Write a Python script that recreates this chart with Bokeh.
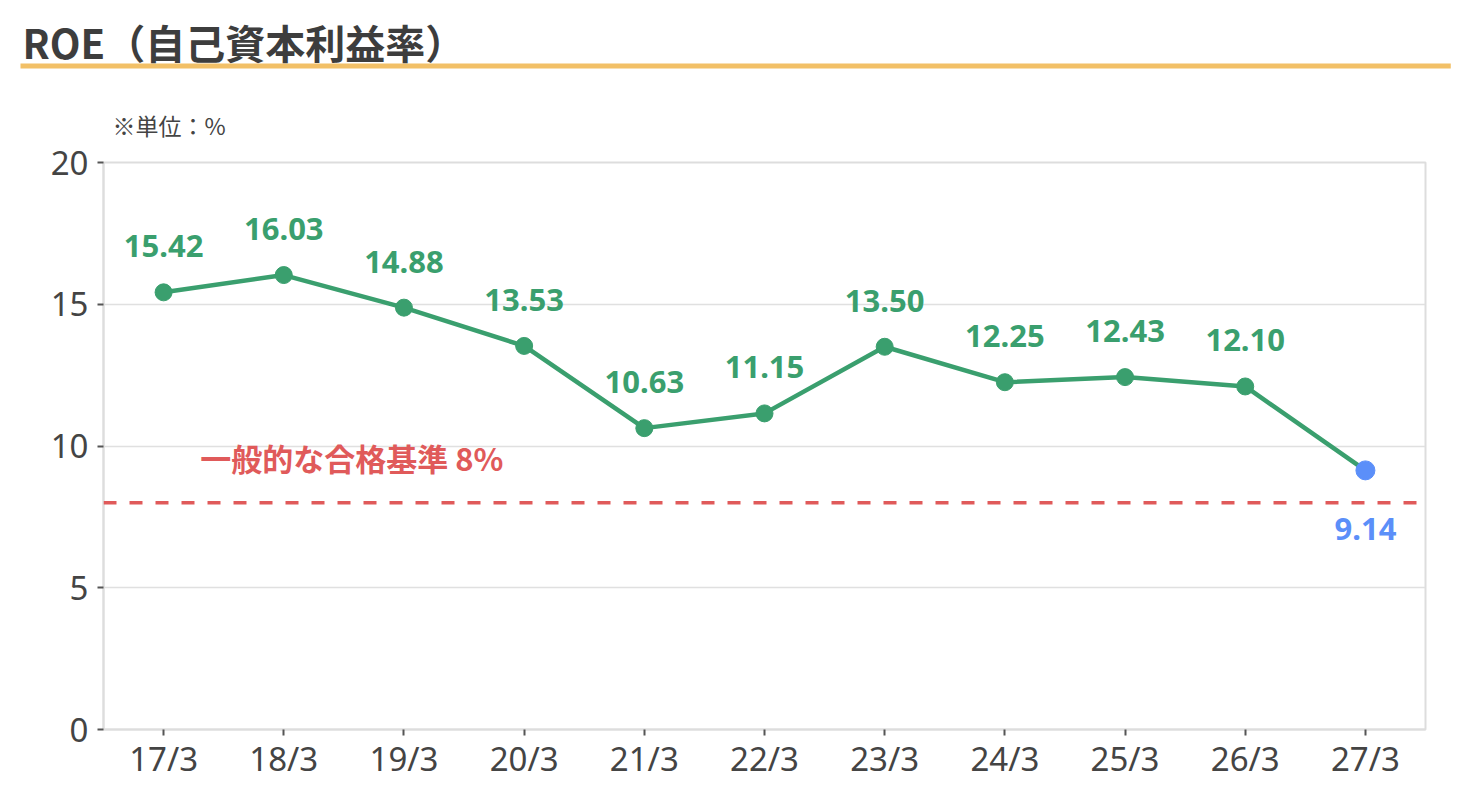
from bokeh.plotting import figure
from bokeh.models import Range1d, FactorRange, Span, FixedTicker, Title
from bokeh.embed import file_html
from bokeh.resources import INLINE
from bokeh.core.properties import value

# ---- data ----
categories = ["17/3", "18/3", "19/3", "20/3", "21/3", "22/3",
              "23/3", "24/3", "25/3", "26/3", "27/3"]
roe = [15.42, 16.03, 14.88, 13.53, 10.63, 11.15, 13.50, 12.25, 12.43, 12.10, 9.14]
y_ticks = [0, 5, 10, 15, 20]
benchmark = 8
benchmark_label = "一般的な合格基準 8%"
title_text = "ROE（自己資本利益率）"
unit_text = "※単位：%"

# ---- styles ----
GREEN = "#3a9f6e"
BLUE = "#5b8ff9"
RED = "#e05a5a"
ORANGE = "#f2c067"
DARK = "#444444"
GRID = "#e0e0e0"
LATIN = "Noto Sans"
CJK = "Noto Sans CJK JP"

p = figure(width=1462, height=802, output_backend="svg", toolbar_location=None,
           tools="", x_range=FactorRange(*categories), y_range=Range1d(0, 20),
           min_border_left=103, min_border_right=37, min_border_top=162,
           min_border_bottom=73)
p.outline_line_color = "#dddddd"
p.outline_line_width = 2
p.xgrid.grid_line_color = None
p.ygrid.grid_line_color = GRID
p.ygrid.grid_line_width = 1.5
p.yaxis.ticker = FixedTicker(ticks=y_ticks)

for ax in (p.xaxis, p.yaxis):
    ax.axis_line_color = "#dddddd"
    ax.axis_line_width = 2
    ax.major_tick_line_color = "#555555"
    ax.major_tick_line_width = 2
    ax.major_tick_out = 6
    ax.major_tick_in = 0
    ax.minor_tick_line_color = None
    ax.major_label_text_font = LATIN
    ax.major_label_text_font_size = "33px"
    ax.major_label_text_color = DARK
p.yaxis.major_label_standoff = 9
p.xaxis.major_label_standoff = 0

# ---- header (stacked upward from the plot frame) ----
# unit note
p.add_layout(Title(text=unit_text, align="left", offset=9, standoff=41,
                   text_font=CJK, text_font_size="23px",
                   text_font_style="normal", text_color=DARK), "above")
# invisible spacer
p.add_layout(Title(text=" ", align="left", offset=0, standoff=14,
                   text_font_size="1px"), "above")
# orange underline
p.add_layout(Title(text=" ", align="left", offset=-83, standoff=0,
                   text_font_size="1px", background_fill_color=ORANGE,
                   padding=(715, 715, 2, 2)), "above")
# main title
p.title.text = title_text
p.title.align = "left"
p.title.offset = -81
p.title.standoff = -18
p.title.text_font = CJK
p.title.text_font_size = "40px"
p.title.text_font_style = "bold"
p.title.text_color = "#3d3d3d"

# benchmark line
p.add_layout(Span(location=benchmark, dimension="width", line_color=RED,
                  line_width=3.5, line_dash="13 13"))
p.text(x=[categories[1]], y=[benchmark], text=[benchmark_label], x_offset=68,
       y_offset=-45, text_font=value(CJK), text_font_style="bold",
       text_font_size="31px", text_color=RED, text_align="center",
       text_baseline="middle")

# ROE line and points
p.line(x=categories, y=roe, line_color=GREEN, line_width=4.5)
p.scatter(x=categories[:-1], y=roe[:-1], size=17, fill_color=GREEN,
          line_color=GREEN)
p.scatter(x=categories[-1:], y=roe[-1:], size=19, fill_color=BLUE,
          line_color=BLUE)

p.text(x=categories[:-1], y=roe[:-1], text=[f"{v:.2f}" for v in roe[:-1]],
       y_offset=-46, text_font=value(LATIN), text_font_style="bold",
       text_font_size="31px", text_color=GREEN, text_align="center",
       text_baseline="alphabetic")
p.text(x=categories[-1:], y=roe[-1:], text=[f"{v:.2f}" for v in roe[-1:]],
       y_offset=59, text_font=value(LATIN), text_font_style="bold",
       text_font_size="31px", text_color=BLUE, text_align="center",
       text_baseline="alphabetic")

open("out.html", "w").write(file_html(p, INLINE))
